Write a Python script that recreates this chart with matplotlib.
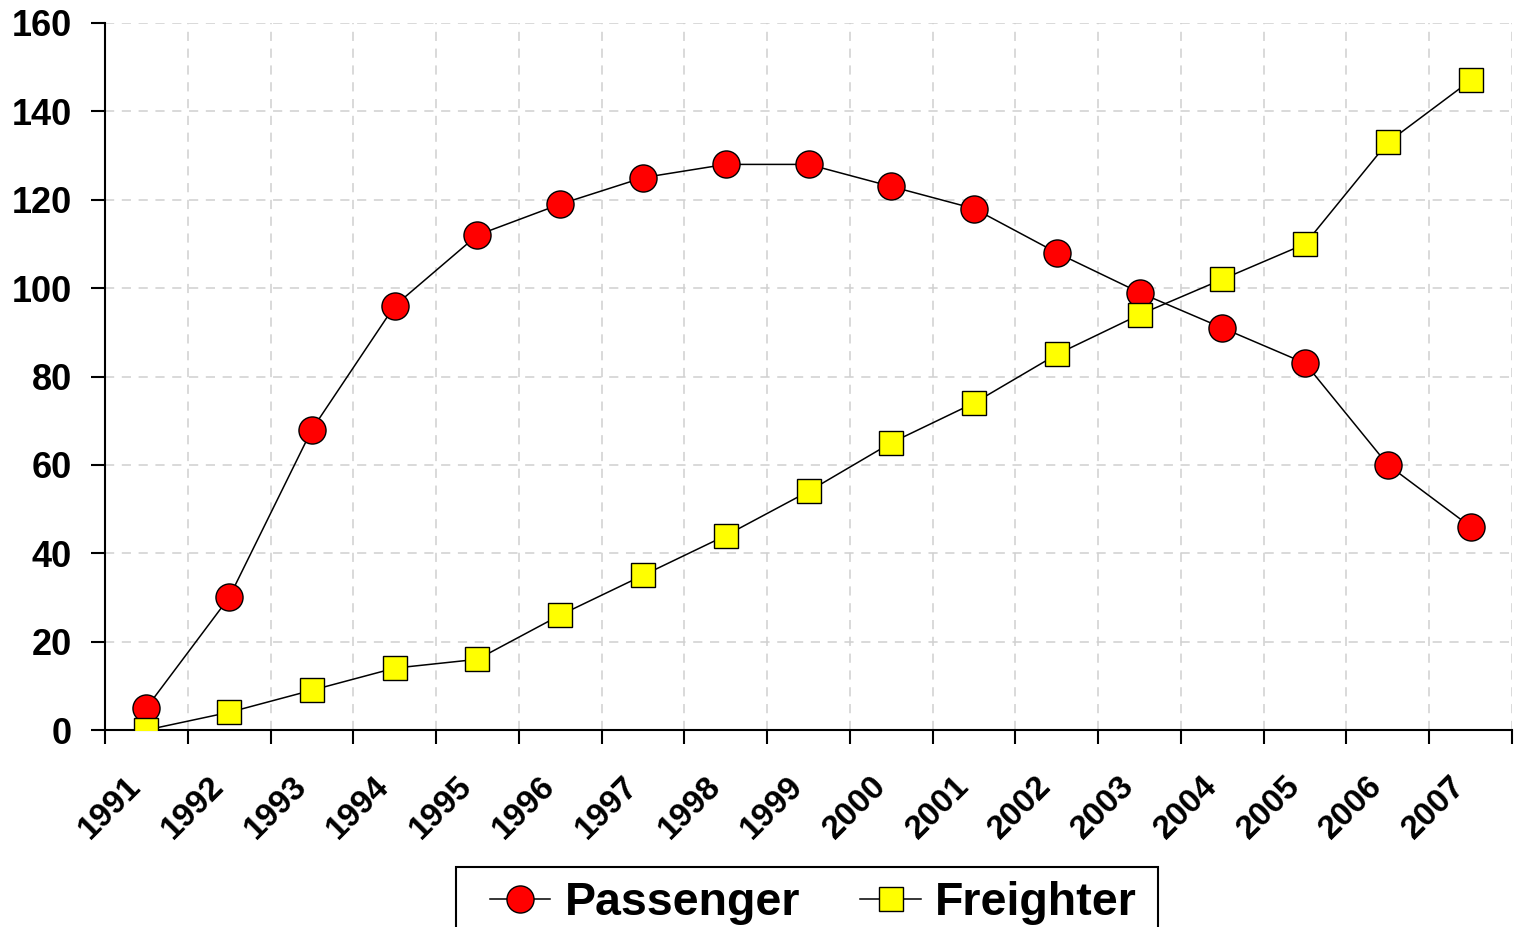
import matplotlib
matplotlib.use("Agg")
import matplotlib.pyplot as plt
from matplotlib.patches import Rectangle
from matplotlib.transforms import ScaledTranslation
import numpy as np

years = [str(y) for y in range(1991, 2008)]
passenger = [5, 30, 68, 96, 112, 119, 125, 128, 128, 123, 118, 108, 99, 91, 83, 60, 46]
freighter = [0, 4, 9, 14, 16, 26, 35, 44, 54, 65, 74, 85, 94, 102, 110, 133, 147]
yticks = [0, 20, 40, 60, 80, 100, 120, 140, 160]

plt.rcParams['font.family'] = ['Liberation Sans', 'DejaVu Sans']
plt.rcParams['font.weight'] = 'bold'

fig = plt.figure(figsize=(15.15, 9.27), dpi=100)
ax = fig.add_axes([105/1515, 1 - 730/927, (1512-105)/1515, (730-23)/927])

n = len(years)
x = np.arange(n) + 0.5

ax.plot(x, passenger, color='black', lw=1.1, marker='o', ms=19.5,
        mfc='#ff0000', mec='black', mew=1.0, label='Passenger', zorder=3)
ax.plot(x, freighter, color='black', lw=1.1, marker='s', ms=17,
        mfc='#ffff00', mec='black', mew=1.0, label='Freighter', zorder=4)

ax.set_xlim(0, n)
ax.set_ylim(0, 160)
ax.set_yticks(yticks)
ax.set_yticklabels([str(v) for v in yticks], fontsize=26, fontweight='bold')
ax.set_xticks(np.arange(n + 1))
ax.set_xticklabels([])
ax.set_xticks(x, minor=True)
ax.set_xticklabels(years, minor=True, rotation=45, ha='right', va='center',
                   rotation_mode='anchor', fontsize=24, fontweight='bold')
ax.tick_params(axis='x', which='minor', length=0, pad=37)
ax.tick_params(axis='x', which='major', length=10, width=1.5, direction='out')
ax.tick_params(axis='y', length=10, width=1.5, direction='out', pad=14)
shift = ScaledTranslation(-10/100, 0, fig.dpi_scale_trans)
for lab in ax.get_xticklabels(minor=True):
    lab.set_transform(lab.get_transform() + shift)

for s in ['top', 'right']:
    ax.spines[s].set_visible(False)
for s in ['left', 'bottom']:
    ax.spines[s].set_linewidth(1.5)

ax.grid(True, which='major', axis='both', color='#d0d0d0', linestyle=(0, (6, 5)), lw=1.1)
ax.set_axisbelow(True)

fig.patches.append(Rectangle((456/1515, -0.02), (1158-456)/1515, (927-867)/927 + 0.02,
                             transform=fig.transFigure, fill=False, ec='black', lw=1.5))
leg = fig.legend(loc='upper left', bbox_to_anchor=(490/1515, 1 - 881/927), ncol=2,
                 prop={'family': 'Liberation Sans', 'weight': 'bold', 'size': 33.5},
                 frameon=False,
                 handlelength=1.3, handletextpad=0.3, columnspacing=1.3,
                 borderpad=0, borderaxespad=0)

fig.savefig('out.png', dpi=100)
